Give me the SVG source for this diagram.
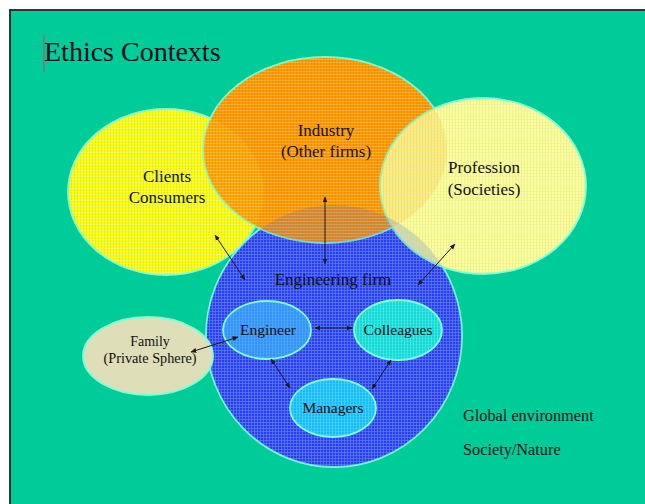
<svg xmlns="http://www.w3.org/2000/svg" width="645" height="504" viewBox="0 0 645 504">
<defs>
<style>
.lbl{font-family:"Liberation Serif","Times New Roman",serif;fill:#111;text-anchor:middle;}
.big{font-size:17px;}
.mid{font-size:15.5px;}
.sm{font-size:14px;}
.edge{stroke:#7FFFD4;stroke-width:1.8;}
.conn{stroke:#1a1a1a;stroke-width:1;fill:none;marker-start:url(#ah);marker-end:url(#ah);}
</style>
<marker id="ah" viewBox="0 0 10 10" refX="9" refY="5" markerWidth="6" markerHeight="6" orient="auto-start-reverse" markerUnits="userSpaceOnUse">
<path d="M0,1 L10,5 L0,9 z" fill="#1a1a1a"/>
</marker>
<pattern id="pOrange" width="3" height="3" patternUnits="userSpaceOnUse">
<rect width="3" height="3" fill="#FF9A00"/><rect x="2" width="1" height="3" fill="#EE8A00"/><rect y="2" width="3" height="1" fill="#F8B848" opacity="0.7"/>
</pattern>
<pattern id="pYellow" width="3" height="3" patternUnits="userSpaceOnUse">
<rect width="3" height="3" fill="#FFFF00"/><rect x="2" width="1" height="3" fill="#E0E830"/><rect y="2" width="3" height="1" fill="#EEF870" opacity="0.7"/>
</pattern>
<pattern id="pPale" width="3" height="3" patternUnits="userSpaceOnUse">
<rect width="3" height="3" fill="#FFFF99"/><rect x="2" width="1" height="3" fill="#F0F090"/><rect y="2" width="3" height="1" fill="#E8F4A0" opacity="0.7"/>
</pattern>
<pattern id="pBlue" width="3" height="3" patternUnits="userSpaceOnUse">
<rect width="3" height="3" fill="#2E3AF8"/><rect x="2" width="1" height="3" fill="#4A70F0"/><rect y="2" width="3" height="1" fill="#5580F0" opacity="0.7"/>
</pattern>
<pattern id="pEng" width="3" height="3" patternUnits="userSpaceOnUse">
<rect width="3" height="3" fill="#3590FF"/><rect x="2" width="1" height="3" fill="#4AA8F8"/><rect y="2" width="3" height="1" fill="#4AA8F8" opacity="0.6"/>
</pattern>
<pattern id="pCol" width="3" height="3" patternUnits="userSpaceOnUse">
<rect width="3" height="3" fill="#10D8D8"/><rect x="2" width="1" height="3" fill="#40E8E0"/><rect y="2" width="3" height="1" fill="#40E8E0" opacity="0.6"/>
</pattern>
<pattern id="pMan" width="3" height="3" patternUnits="userSpaceOnUse">
<rect width="3" height="3" fill="#18B8FF"/><rect x="2" width="1" height="3" fill="#40D0F8"/><rect y="2" width="3" height="1" fill="#40D0F8" opacity="0.6"/>
</pattern>
</defs>

<rect x="0" y="0" width="645" height="504" fill="#ffffff"/>
<rect x="10" y="10" width="640" height="500" fill="#00CC99" stroke="#333333" stroke-width="2"/>

<g id="title">
<line x1="44" y1="34" x2="44" y2="72" stroke="#D04060" stroke-width="1"/>
<text x="44" y="61" font-family="Liberation Serif, Times New Roman, serif" font-size="28" fill="#0a0a1a">Ethics Contexts</text>
</g>

<g id="engineering-firm">
<ellipse cx="334" cy="336" rx="128" ry="131" fill="url(#pBlue)" class="edge"/>
</g>
<g id="clients">
<ellipse cx="166" cy="192" rx="98" ry="83" fill="url(#pYellow)" class="edge"/>
</g>
<g id="industry">
<ellipse cx="325" cy="150" rx="122" ry="93" fill="url(#pOrange)" class="edge"/>
</g>
<g id="profession">
<ellipse cx="483" cy="186" rx="103" ry="88" fill="url(#pPale)" class="edge"/>
</g>
<g id="overlap-tints">
<ellipse cx="166" cy="192" rx="98" ry="83" fill="url(#pYellow)" opacity="0.15"/>
<ellipse cx="325" cy="150" rx="122" ry="93" fill="url(#pOrange)" opacity="0.18"/>
<ellipse cx="334" cy="336" rx="128" ry="131" fill="url(#pBlue)" opacity="0.2"/>
</g>
<g id="family">
<ellipse cx="148" cy="356" rx="65" ry="39" fill="#DEDEB8" class="edge"/>
</g>
<g id="engineer">
<ellipse cx="267" cy="330" rx="44" ry="29" fill="url(#pEng)" class="edge"/>
</g>
<g id="colleagues">
<ellipse cx="398" cy="330" rx="44" ry="30" fill="url(#pCol)" class="edge"/>
</g>
<g id="managers">
<ellipse cx="333" cy="408" rx="43" ry="29" fill="url(#pMan)" class="edge"/>
</g>

<g id="labels">
<text class="lbl big" x="326" y="136">Industry</text>
<text class="lbl big" x="326" y="157">(Other firms)</text>
<text class="lbl big" x="167" y="182">Clients</text>
<text class="lbl big" x="167" y="203">Consumers</text>
<text class="lbl big" x="484" y="173">Profession</text>
<text class="lbl big" x="484" y="195">(Societies)</text>
<text class="lbl big" x="333" y="285">Engineering firm</text>
<text class="lbl mid" x="268" y="335">Engineer</text>
<text class="lbl mid" x="398" y="335">Colleagues</text>
<text class="lbl mid" x="333" y="413">Managers</text>
<text class="lbl sm" x="150" y="346">Family</text>
<text class="lbl sm" x="150" y="363" textLength="93" lengthAdjust="spacingAndGlyphs">(Private Sphere)</text>
<text x="463" y="421" font-family="Liberation Serif, Times New Roman, serif" font-size="16.3" fill="#111">Global environment</text>
<text x="463" y="455" font-family="Liberation Serif, Times New Roman, serif" font-size="16.3" fill="#111">Society/Nature</text>
</g>

<g id="connectors">
<line class="conn" x1="215" y1="235" x2="245" y2="280"/>
<line class="conn" x1="325" y1="197" x2="325" y2="264"/>
<line class="conn" x1="455" y1="244" x2="418" y2="285"/>
<line class="conn" x1="315" y1="328" x2="352" y2="328"/>
<line class="conn" x1="238" y1="337" x2="191" y2="352"/>
<line class="conn" x1="271" y1="359" x2="290" y2="388"/>
<line class="conn" x1="391" y1="360" x2="372" y2="389"/>
</g>
</svg>
